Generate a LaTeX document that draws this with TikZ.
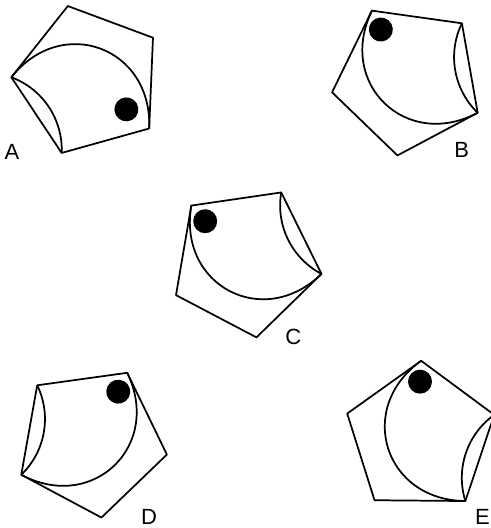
\documentclass[tikz,border=0pt]{standalone}
\usepackage{fontspec}
\setmainfont{Liberation Sans}
\usepackage{tikz}

\newcommand{\pentfig}[1]{%
  \draw[edge] (90:1) -- (162:1) -- (234:1) -- (306:1) -- (18:1) -- cycle;
  \draw[edge] (90:1) .. controls (-0.849,0.383) and (-0.462,-0.809) .. (306:1);
  \draw[edge] (18:1) arc[start angle=126, end angle=198, radius=1];
  \fill (91:#1) circle[radius=0.155];
}

\begin{document}
\begin{tikzpicture}[x=0.75pt, y=0.75pt,
  edge/.style={line width=1.3pt, line join=round},
  pent/.style={x=57.975pt, y=57.975pt},
  tag/.style={anchor=base, inner sep=0pt, font=\fontsize{16.5}{19}\selectfont}]
  \clip (0,0) rectangle (491,528);
  \begin{scope}[shift={(88.6,447.5)}, rotate=-128.4, pent]
    \pentfig{0.615}
  \end{scope}
  \begin{scope}[shift={(408.2,449.1)}, rotate=28, pent]
    \pentfig{0.73}
  \end{scope}
  \begin{scope}[shift={(245.3,267.1)}, rotate=44.3, pent]
    \pentfig{0.73}
  \end{scope}
  \begin{scope}[shift={(90.8,87)}, rotate=-28.1, xscale=-1, pent]
    \pentfig{0.73}
  \end{scope}
  \begin{scope}[shift={(420.5,89.9)}, rotate=-0.5, pent]
    \pentfig{0.73}
  \end{scope}
  \node[tag] (labA) at (12,368.7) {A};
  \node[tag] (labB) at (461.7,370.3) {B};
  \node[tag] (labC) at (293.3,183.3) {C};
  \node[tag] (labD) at (149,3) {D};
  \node[tag] (labE) at (482.5,3) {E};
\end{tikzpicture}
\end{document}
